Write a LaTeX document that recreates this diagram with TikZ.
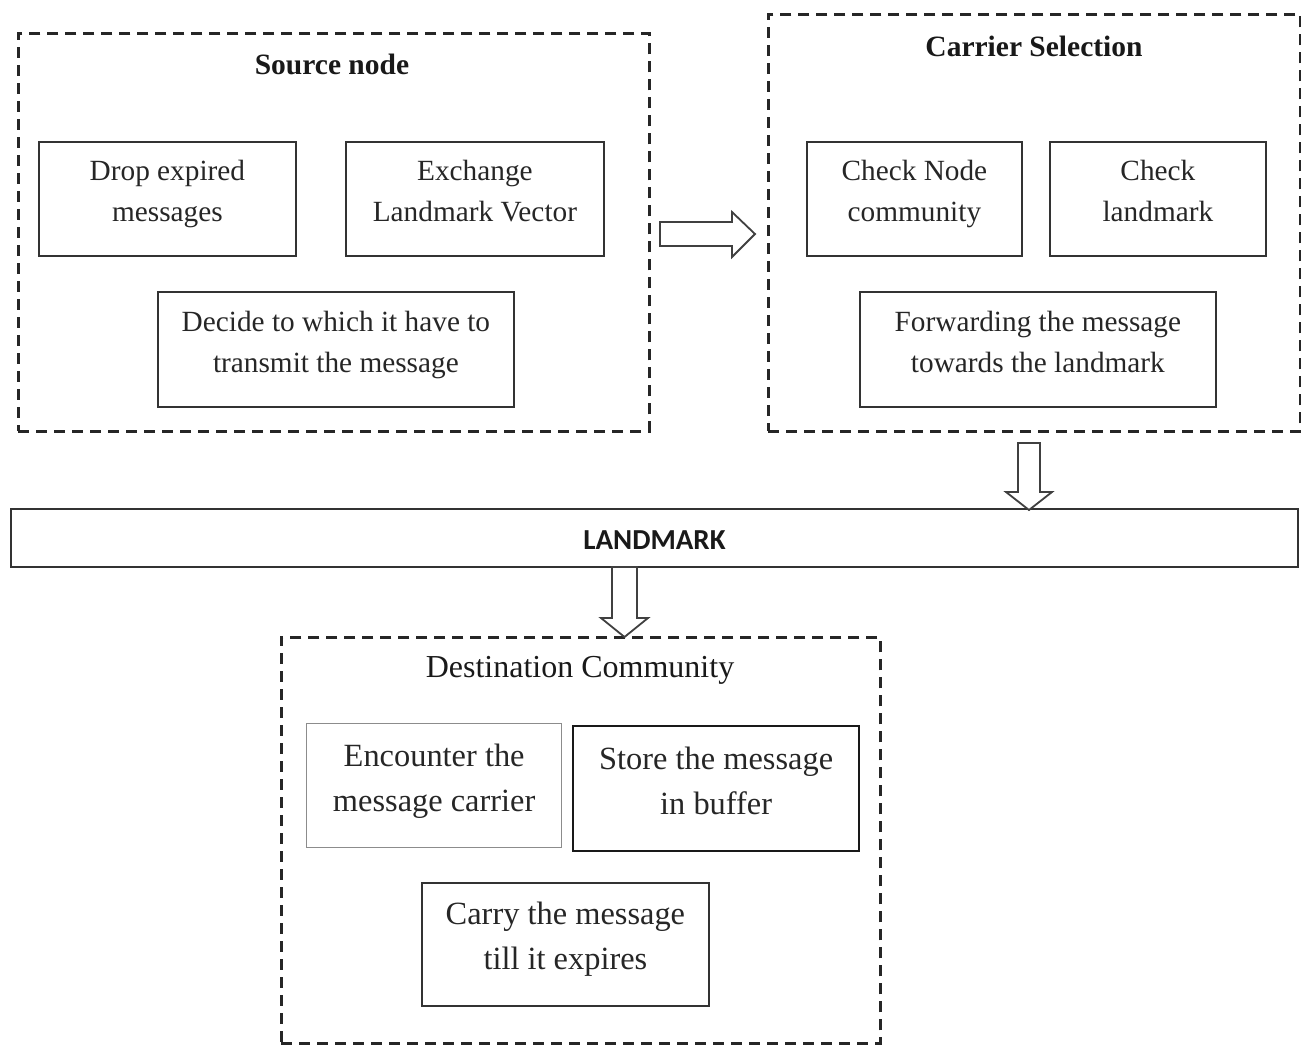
\documentclass[tikz,border=0pt]{standalone}
\usepackage{fontspec}
\setmainfont{Liberation Serif}
\newfontfamily\lmkfont{Carlito}
\begin{document}
\begin{tikzpicture}[x=1pt,y=-1pt,
  group/.style={draw=black!85, line width=2.6pt, dash pattern=on 11pt off 7pt, anchor=north west, inner sep=0pt},
  stepbox/.style={draw=black!80, line width=1.8pt, anchor=north west, inner sep=0pt},
  steptext/.style={label={[yshift=6pt, align=center, inner sep=0pt, text=black!85,
     font=\fontsize{29.3}{41}\selectfont]center:#1}},
  bigtext/.style={label={[yshift=6pt, align=center, inner sep=0pt, text=black!85,
     font=\fontsize{32.4}{45}\selectfont]center:#1}},
  title/.style={text=black!90, font=\fontsize{29.5}{34}\selectfont},
  blockarrow/.style={draw=black!75, line width=1.8pt, fill=white, line join=miter}
]
\useasboundingbox (0,0) rectangle (1301,1045);

% Source node group
\node[group, minimum width=631, minimum height=398] (src) at (17,32) {};
\node[title, font=\fontsize{29.5}{34}\selectfont\bfseries] (srct) at (332,64) {Source node};
\node[stepbox, minimum width=257, minimum height=114,
  steptext={\strut Drop expired\\\strut messages}] (drop) at (38,141) {};
\node[stepbox, minimum width=258, minimum height=114,
  steptext={\strut Exchange\\\strut Landmark Vector}] (exch) at (345,141) {};
\node[stepbox, minimum width=356, minimum height=115,
  steptext={\strut Decide to which it have to\\\strut transmit the message}] (dec) at (157,291) {};

% Carrier selection group
\node[group, minimum width=532, minimum height=417] (car) at (767,13) {};
\node[title, font=\fontsize{29.5}{34}\selectfont\bfseries] (cart) at (1034,46) {Carrier Selection};
\node[stepbox, minimum width=215, minimum height=114,
  steptext={\strut Check Node\\\strut community}] (chkn) at (806,141) {};
\node[stepbox, minimum width=216, minimum height=114,
  steptext={\strut Check\\\strut landmark}] (chkl) at (1049,141) {};
\node[stepbox, minimum width=356, minimum height=115,
  steptext={\strut Forwarding the message\\\strut towards the landmark}] (fwd) at (859,291) {};

% Landmark bar
\node[draw=black!80, line width=2pt, anchor=north west, minimum width=1287, minimum height=58, inner sep=0pt,
      label={[yshift=-2pt, inner sep=0pt, font=\lmkfont\bfseries\fontsize{29}{34}\selectfont, text=black!90]center:LANDMARK}] (lmk) at (10,508) {};

% Destination community group
\node[group, minimum width=599, minimum height=406] (dst) at (280,636) {};
\node[title, font=\fontsize{32}{36}\selectfont] (dstt) at (580,670) {Destination Community};
\node[stepbox, draw=black!45, line width=1.3pt, minimum width=255, minimum height=124,
  bigtext={\strut Encounter the\\\strut message carrier}] (enc) at (306,723) {};
\node[stepbox, draw=black!90, line width=2.3pt, minimum width=286, minimum height=125,
  bigtext={\strut Store the message\\\strut in buffer}] (sto) at (572,725) {};
\node[stepbox, minimum width=287, minimum height=123,
  bigtext={\strut Carry the message\\\strut till it expires}] (cry) at (421,882) {};

% Block arrows (between the groups and the landmark bar)
\draw[blockarrow] (660,222) -- (732,222) -- (732,212) -- (755,234) -- (732,257) -- (732,246) -- (660,246) -- cycle;
\draw[blockarrow] (1018,443) -- (1040,443) -- (1040,492) -- (1052,492) -- (1029,510) -- (1006,492) -- (1018,492) -- cycle;
\draw[blockarrow] (612,567) -- (637,567) -- (637,618) -- (648,618) -- (624.5,637) -- (601,618) -- (612,618) -- cycle;
\end{tikzpicture}
\end{document}
